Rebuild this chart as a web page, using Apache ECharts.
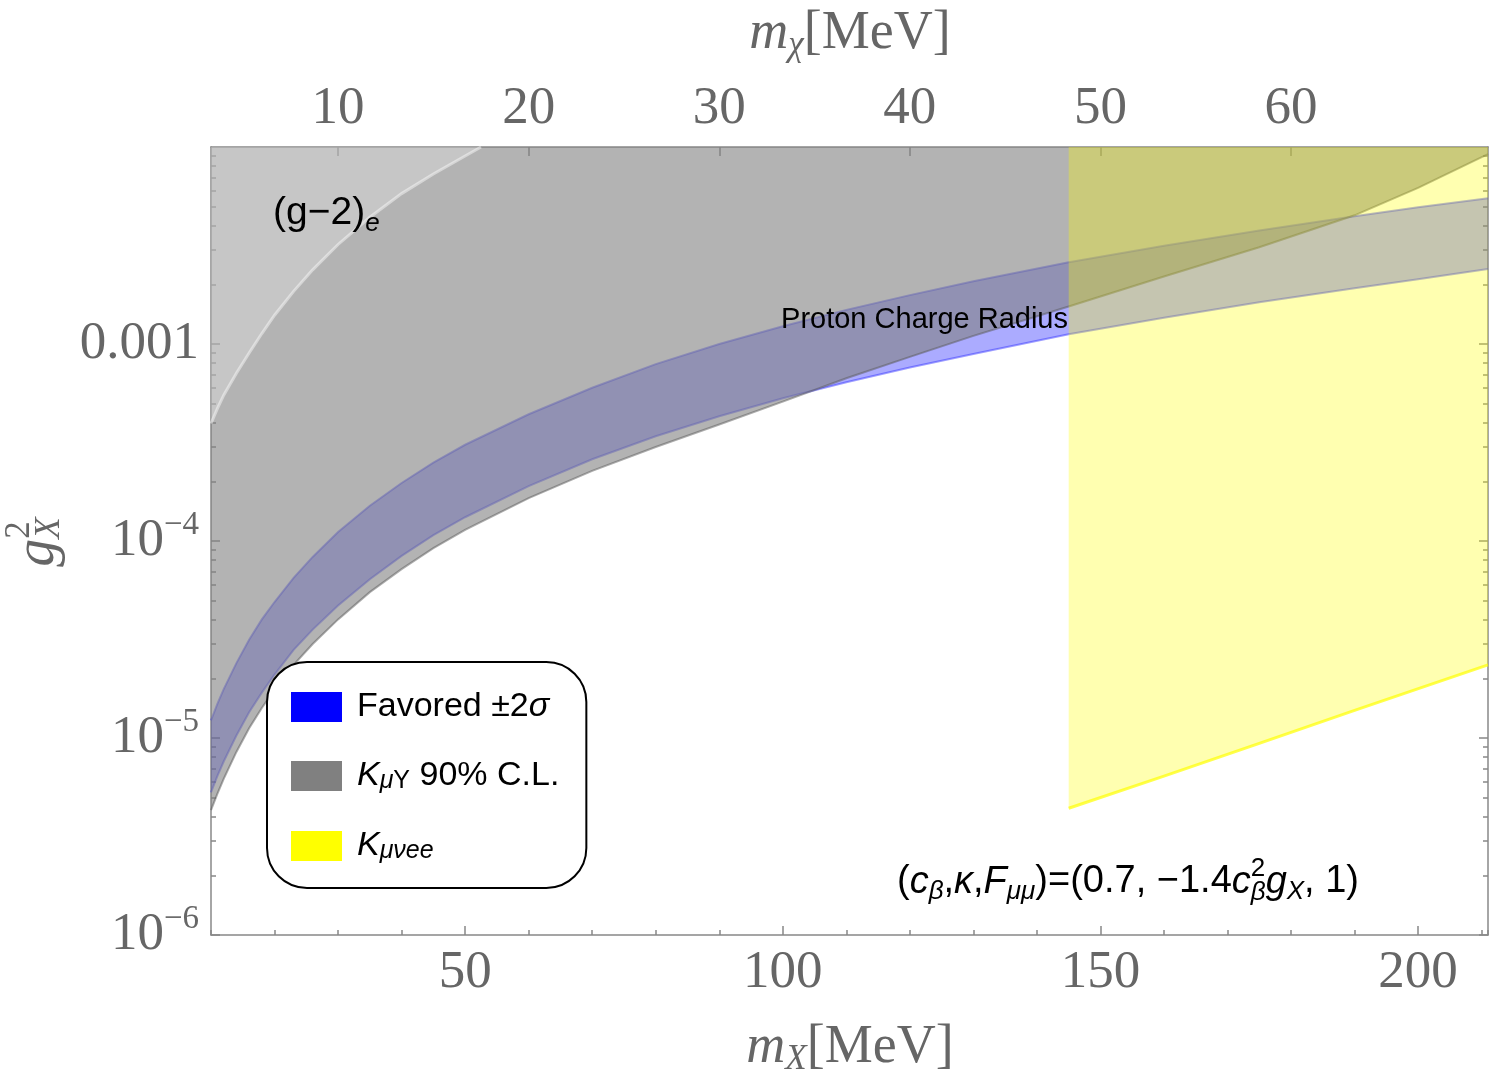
<!DOCTYPE html>
<html>
<head>
<meta charset="utf-8">
<title>g_X^2 vs m_X</title>
<script src="https://cdn.jsdelivr.net/npm/echarts@6/dist/echarts.min.js"></script>
<style>
  html, body { margin: 0; padding: 0; background: #fff; }
  #chart { width: 1500px; height: 1084px; }
</style>
</head>
<body>
<div id="chart"></div>
<script>
// ---- data (m_X in MeV, g_X^2) ----
var mX = [10, 11, 12, 14, 16, 18, 20, 23, 26, 30, 35, 40, 45, 50, 60, 70, 80, 90, 100, 110, 120, 130, 145, 160, 175, 190, 200, 211];
var favoredLow = [5.3e-6, 6.4e-6, 7.6e-6, 1.03e-5, 1.35e-5, 1.7e-5, 2.1e-5, 2.8e-5, 3.55e-5, 4.7e-5, 6.4e-5, 8.4e-5, 1.07e-4, 1.32e-4, 1.9e-4, 2.6e-4, 3.4e-4, 4.3e-4, 5.3e-4, 6.4e-4, 7.6e-4, 8.9e-4, 1.12e-3, 1.36e-3, 1.63e-3, 1.92e-3, 2.13e-3, 2.4e-3];
var favoredHigh = [1.23e-5, 1.49e-5, 1.77e-5, 2.4e-5, 3.15e-5, 4.0e-5, 4.9e-5, 6.5e-5, 8.3e-5, 1.11e-4, 1.51e-4, 1.97e-4, 2.5e-4, 3.08e-4, 4.4e-4, 6.0e-4, 7.9e-4, 1.0e-3, 1.23e-3, 1.49e-3, 1.77e-3, 2.08e-3, 2.6e-3, 3.15e-3, 3.77e-3, 4.45e-3, 4.95e-3, 5.5e-3];
var kmuyLow = [4.3e-6, 5.2e-6, 6.2e-6, 8.5e-6, 1.12e-5, 1.42e-5, 1.76e-5, 2.35e-5, 3.0e-5, 4.0e-5, 5.5e-5, 7.2e-5, 9.2e-5, 1.14e-4, 1.65e-4, 2.27e-4, 3.0e-4, 3.9e-4, 5.1e-4, 6.7e-4, 8.6e-4, 1.1e-3, 1.55e-3, 2.2e-3, 3.1e-3, 4.5e-3, 6.2e-3, 9.2e-3];

var g2eM = [10, 11, 12, 14, 16, 18, 20, 23, 26, 30, 35, 40, 45, 50, 52.5];
var g2eLow = [3.95e-4, 4.7e-4, 5.5e-4, 7.1e-4, 9.0e-4, 1.13e-3, 1.4e-3, 1.85e-3, 2.38e-3, 3.2e-3, 4.4e-3, 5.8e-3, 7.3e-3, 9.0e-3, 1.0e-2];

var kveeM = [145, 160, 175, 190, 211];
var kveeLow = [4.4e-6, 6.4e-6, 9.4e-6, 1.38e-5, 2.35e-5];

// ticks
var xMajorTicks = [50, 100, 150, 200];
var chiTicks = [10, 20, 30, 40, 50, 60];
var yMajorTicks = [1e-6, 1e-5, 1e-4, 1e-3];
var yMinorTicks = [2e-6, 3e-6, 4e-6, 5e-6, 6e-6, 7e-6, 8e-6, 9e-6,
                   2e-5, 3e-5, 4e-5, 5e-5, 6e-5, 7e-5, 8e-5, 9e-5,
                   2e-4, 3e-4, 4e-4, 5e-4, 6e-4, 7e-4, 8e-4, 9e-4,
                   2e-3, 3e-3, 4e-3, 5e-3, 6e-3, 7e-3, 8e-3, 9e-3];

var xMin = 10, xMax = 211, yMin = 1e-6, yMax = 1e-2;

var SERIF = '"Liberation Serif", "DejaVu Serif", serif';
var SANS = '"Liberation Sans", Arial, sans-serif';
var frameColor = '#888';
var labelColor = '#666';

var chart = echarts.init(document.getElementById('chart'));

/* filled region between lower curve and upper curve (or top of plot) */
function regionRenderer(xs, lower, upper, fill, edge) {
    return function (params, api) {
        var pts = [], lowPts = [], upPts = [], i;
        for (i = 0; i < xs.length; i++) lowPts.push(api.coord([xs[i], lower[i]]));
        if (upper) {
            for (i = 0; i < xs.length; i++) upPts.push(api.coord([xs[i], upper[i]]));
        } else {
            upPts = [api.coord([xs[0], yMax]), api.coord([xs[xs.length - 1], yMax])];
        }
        pts = lowPts.concat(upPts.slice().reverse());
        var kids = [{ type: 'polygon', shape: { points: pts }, style: { fill: fill } }];
        kids.push({ type: 'polyline', shape: { points: lowPts }, style: { stroke: edge.color, lineWidth: edge.width, fill: null } });
        if (upper) {
            kids.push({ type: 'polyline', shape: { points: upPts }, style: { stroke: edge.color, lineWidth: edge.width, fill: null } });
        }
        return { type: 'group', children: kids };
    };
}

/* little helper for sub/superscript text built from graphic texts */
var mctx = document.createElement('canvas').getContext('2d');
function mathText(parts, fam, color, x, y, anchor, rotation) {
    var els = [], cx = 0, held = 0;
    parts.forEach(function (p) {
        var font = (p.it ? 'italic ' : '') + p.size + 'px ' + (p.fam || fam);
        mctx.font = font;
        var w = mctx.measureText(p.t).width;
        els.push({
            type: 'text', x: cx, y: p.dy || 0, silent: true, z: 100,
            style: { text: p.t, font: font, fill: color, align: 'left', verticalAlign: 'middle' }
        });
        if (p.hold) { held = w; } else { cx += Math.max(w, held); held = 0; }
    });
    var shift = anchor === 'center' ? -cx / 2 : (anchor === 'right' ? -cx : 0);
    els.forEach(function (e) { e.x += shift; });
    return { type: 'group', x: x, y: y, rotation: rotation || 0, z: 100, children: els };
}

function yLabel(v) {
    var e = Math.round(Math.log(v) / Math.LN10);
    if (e === -3) return '{b|0.001}';
    return '{b|10}{s|\u2212' + (-e) + '}';
}

var tickStyle = { color: frameColor, width: 1.5 };
var axisLabelBase = { fontSize: 53, fontFamily: SERIF, color: labelColor };

function logAxis(pos, ticks, len, showLine, showLabel) {
    return {
        type: 'log', logBase: 10, min: yMin, max: yMax, position: pos,
        axisLine: { show: showLine, onZero: false, lineStyle: tickStyle },
        axisTick: { show: true, inside: true, length: len, customValues: ticks, lineStyle: tickStyle },
        axisLabel: showLabel ? {
            show: true, customValues: ticks, margin: 12, formatter: yLabel,
            rich: {
                b: { fontSize: 53, fontFamily: SERIF, color: labelColor, lineHeight: 64, verticalAlign: 'middle' },
                s: { fontSize: 33, fontFamily: SERIF, color: labelColor, lineHeight: 30, verticalAlign: 'top' }
            }
        } : { show: false },
        splitLine: { show: false },
        minorTick: { show: false }
    };
}

var option = {
    animation: false,
    backgroundColor: '#fff',
    grid: { left: 211, right: 12, top: 147, bottom: 149, outerBoundsMode: 'none' },
    xAxis: [{
        type: 'value', position: 'bottom', min: xMin, max: xMax,
        axisLine: { show: true, onZero: false, lineStyle: tickStyle },
        axisTick: { show: true, inside: true, length: 9, customValues: xMajorTicks, lineStyle: tickStyle },
        axisLabel: Object.assign({ customValues: xMajorTicks, margin: 14, lineHeight: 48 }, axisLabelBase),
        splitLine: { show: false }
    }, {
        type: 'value', position: 'bottom', min: xMin, max: xMax, interval: 10,
        axisLine: { show: false },
        axisTick: { show: true, inside: true, length: 5, lineStyle: tickStyle },
        axisLabel: { show: false },
        splitLine: { show: false }
    }, {
        type: 'value', position: 'top', min: xMin / 3, max: xMax / 3,
        axisLine: { show: true, onZero: false, lineStyle: tickStyle },
        axisTick: { show: true, inside: true, length: 9, customValues: chiTicks, lineStyle: tickStyle },
        axisLabel: Object.assign({ customValues: chiTicks, margin: 14, lineHeight: 48 }, axisLabelBase),
        splitLine: { show: false }
    }],
    yAxis: [
        logAxis('left', yMajorTicks, 9, true, true),
        logAxis('left', yMinorTicks, 5, false, false),
        logAxis('right', yMajorTicks, 9, true, false),
        logAxis('right', yMinorTicks, 5, false, false)
    ],
    legend: {
        orient: 'vertical', left: 267, top: 662,
        padding: [28, 27, 24, 24], itemGap: 35,
        itemWidth: 51, itemHeight: 30, icon: 'rect',
        backgroundColor: '#fff', borderColor: '#000', borderWidth: 2, borderRadius: 40,
        selectedMode: false,
        data: [
            { name: 'Favored', itemStyle: { color: '#0000ff', opacity: 1 } },
            { name: 'KmuY', itemStyle: { color: '#808080', opacity: 1 } },
            { name: 'Kmuvee', itemStyle: { color: '#ffff00', opacity: 1 } }
        ],
        formatter: function (name) {
            if (name === 'Favored') return '{p|}{t|Favored \u00b12}{i|\u03c3}';
            if (name === 'KmuY') return '{p|}{i|K}{si|\u03bc}{s|Y}{t| 90% C.L.}';
            return '{p|}{i|K}{si|\u03bc\u03bdee}';
        },
        textStyle: {
            rich: {
                p: { width: 10, lineHeight: 36, verticalAlign: 'middle' },
                t: { fontSize: 34, fontFamily: SANS, color: '#000', lineHeight: 36, verticalAlign: 'middle' },
                i: { fontSize: 34, fontFamily: SANS, fontStyle: 'italic', color: '#000', lineHeight: 36, verticalAlign: 'middle' },
                si: { fontSize: 25, fontFamily: SANS, fontStyle: 'italic', color: '#000', lineHeight: 14, verticalAlign: 'bottom' },
                s: { fontSize: 25, fontFamily: SANS, color: '#000', lineHeight: 14, verticalAlign: 'bottom' }
            }
        }
    },
    series: [{
        name: 'Favored', type: 'custom', coordinateSystem: 'cartesian2d',
        itemStyle: { color: '#0000ff' }, silent: true,
        renderItem: regionRenderer(mX, favoredLow, favoredHigh, 'rgba(0,0,255,0.33)', { color: 'rgba(40,40,255,0.45)', width: 2 }),
        data: [[xMin, yMin]]
    }, {
        name: 'KmuY', type: 'custom', coordinateSystem: 'cartesian2d',
        itemStyle: { color: '#808080' }, silent: true,
        renderItem: regionRenderer(mX, kmuyLow, null, 'rgba(128,128,128,0.6)', { color: 'rgba(90,90,90,0.5)', width: 2 }),
        data: [[xMin, yMin]]
    }, {
        name: 'g2e', type: 'custom', coordinateSystem: 'cartesian2d', silent: true,
        renderItem: regionRenderer(g2eM, g2eLow, null, 'rgba(255,255,255,0.26)', { color: 'rgba(255,255,255,0.45)', width: 3 }),
        data: [[xMin, yMin]]
    }, {
        name: 'Kmuvee', type: 'custom', coordinateSystem: 'cartesian2d',
        itemStyle: { color: '#ffff00' }, silent: true,
        renderItem: regionRenderer(kveeM, kveeLow, null, 'rgba(255,255,0,0.31)', { color: 'rgba(255,255,0,0.7)', width: 3 }),
        data: [[xMin, yMin]]
    }],
    graphic: { elements: [
        // axis titles
        mathText([{ t: 'm', it: true, size: 54 }, { t: 'X', it: true, size: 35, dy: 12 }, { t: '[MeV]', size: 54 }],
            SERIF, labelColor, 850, 1048, 'center'),
        mathText([{ t: 'm', it: true, size: 54 }, { t: '\u03c7', it: true, size: 35, dy: 12 }, { t: '[MeV]', size: 54 }],
            SERIF, labelColor, 850, 34, 'center'),
        mathText([{ t: 'g', it: true, size: 56 }, { t: '2', size: 35, dy: -18, hold: true }, { t: 'X', it: true, size: 35, dy: 12 }],
            SERIF, labelColor, 38, 542, 'center', Math.PI / 2),
        // annotations
        mathText([{ t: '(g\u22122)', size: 39 }, { t: 'e', it: true, size: 26, dy: 11 }],
            SANS, '#000', 273, 213, 'left'),
        mathText([{ t: 'Proton Charge Radius', size: 29 }],
            SANS, '#000', 1068, 320, 'right'),
        mathText([
            { t: '(', size: 38 }, { t: 'c', it: true, size: 38 }, { t: '\u03b2', it: true, size: 26, dy: 10 },
            { t: ',', size: 38 }, { t: '\u03ba', it: true, size: 38 }, { t: ',', size: 38 },
            { t: 'F', it: true, size: 38 }, { t: '\u03bc\u03bc', it: true, size: 26, dy: 10 },
            { t: ')=(0.7, \u22121.4', size: 38 }, { t: 'c', it: true, size: 38 },
            { t: '2', size: 26, dy: -13, hold: true }, { t: '\u03b2', it: true, size: 26, dy: 11 },
            { t: 'g', it: true, size: 38 }, { t: 'X', it: true, size: 26, dy: 10 }, { t: ', 1)', size: 38 }
        ], SANS, '#000', 897, 882, 'left')
    ] }
};

chart.setOption(option);
</script>
</body>
</html>
